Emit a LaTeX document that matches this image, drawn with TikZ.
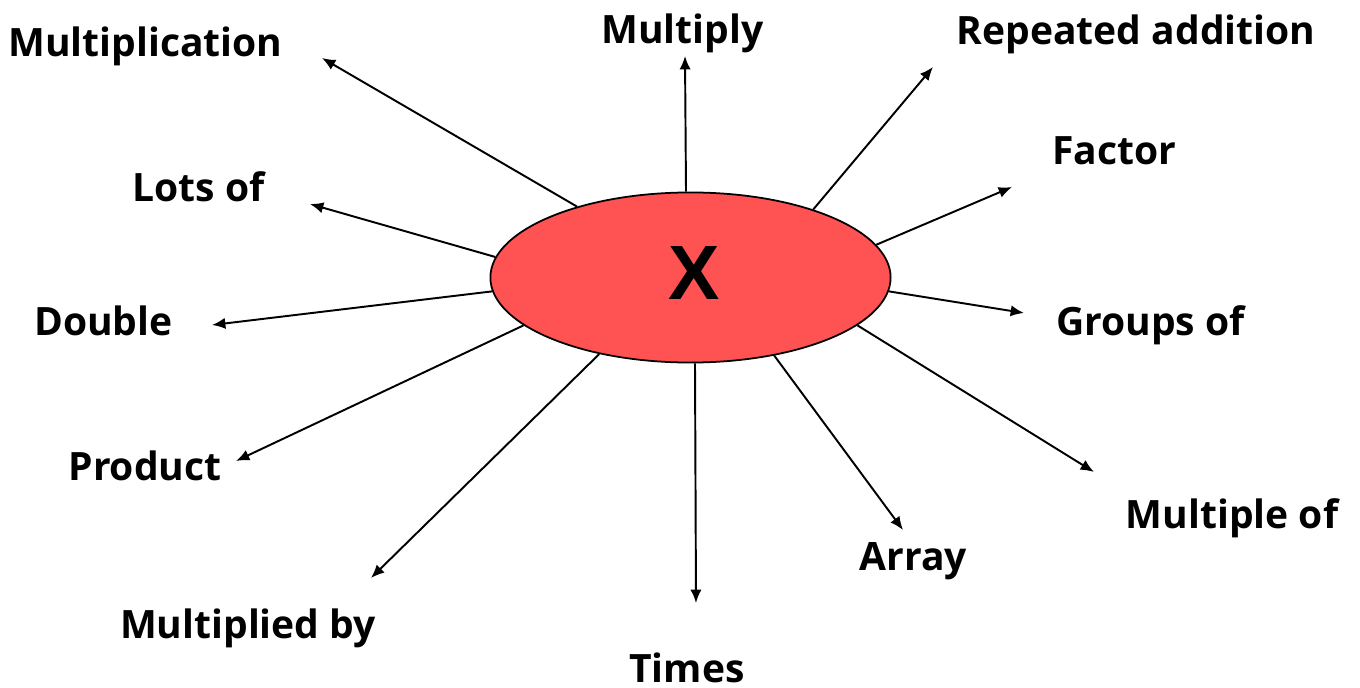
\documentclass[tikz,border=0pt]{standalone}
\usepackage{fontspec}
\setmainfont{Open Sans}
\newfontfamily\xfont{Liberation Sans}
\usetikzlibrary{shapes.geometric,arrows.meta}
\definecolor{ellred}{RGB}{255,82,82}
\tikzset{
  lbl/.style={anchor=base,inner sep=0pt,font=\fontsize{11.1pt}{13pt}\selectfont\bfseries},
  arr/.style={-{Latex[length=3.8pt,width=3.2pt]},line width=0.55pt},
}
\begin{document}
\begin{tikzpicture}[x=0.01cm,y=-0.01cm]
\useasboundingbox (0,0) rectangle (1360,688);
\node[ellipse,draw,line width=0.5pt,fill=ellred,minimum width=4cm,minimum height=1.7cm,inner sep=0pt] (e) at (690.5,277.5) {};
\node[inner sep=0pt,font=\xfont\fontsize{21.9pt}{24pt}\selectfont\bfseries] (xl) at (694.5,273.5) {X};
% labels
\node[lbl] (l1) at (145.5,57) {Multiplication};
\node[lbl] (l2) at (682.5,44) {Multiply};
\node[lbl] (l3) at (1136,45) {Repeated addition};
\node[lbl] (l4) at (1114,165) {Factor};
\node[lbl] (l5) at (198.5,202) {Lots of};
\node[lbl] (l6) at (103.5,335) {Double};
\node[lbl] (l7) at (1150.5,335) {Groups of};
\node[lbl] (l8) at (145,480) {Product};
\node[lbl] (l9) at (1232,528) {Multiple of};
\node[lbl] (l10) at (913.5,570) {Array};
\node[lbl] (l11) at (248,638) {Multiplied by};
\node[lbl] (l12) at (687,682) {Times};
% arrow tips
\coordinate (t1) at (322,58);
\coordinate (t2) at (685,56);
\coordinate (t3) at (933,67);
\coordinate (t4) at (1012,187);
\coordinate (t5) at (310,204);
\coordinate (t6) at (212,325);
\coordinate (t7) at (1024,313);
\coordinate (t8) at (236,461);
\coordinate (t9) at (1094,472);
\coordinate (t10) at (903,530);
\coordinate (t11) at (371,578);
\coordinate (t12) at (696,603);
\foreach \i/\a in {1/148.7,2/93.7,3/29.1,4/10.8,5/174.3,6/184.2,7/356.4,8/196.9,9/344.3,10/317.2,11/220.5,12/273.7}
  {\draw[arr] (e.\a) -- (t\i);}
\end{tikzpicture}
\end{document}
